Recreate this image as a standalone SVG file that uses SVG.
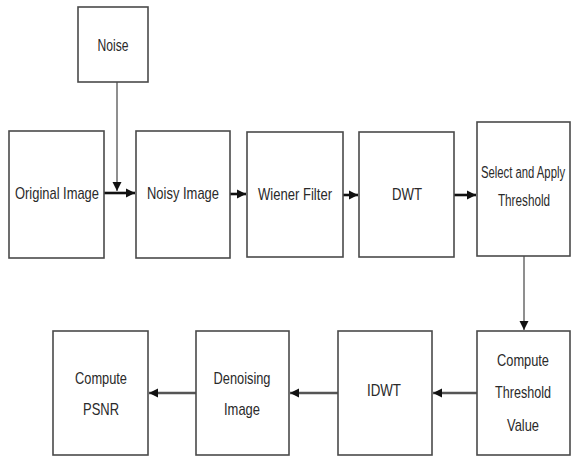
<svg xmlns="http://www.w3.org/2000/svg" width="571" height="459" viewBox="0 0 571 459">
<style>
.box{fill:#fff;stroke:#4a4a4a;stroke-width:1.6}
.t{font-family:"Liberation Sans",Arial,sans-serif;font-size:17px;fill:#2a2a2a;text-anchor:middle}
.c{fill:none;stroke:#111}
.thick{stroke-width:2.6}
.thin{stroke-width:1.1;stroke:#333}
</style>
<defs>
<marker id="ah" markerUnits="userSpaceOnUse" markerWidth="10" markerHeight="10" refX="9" refY="5" orient="auto">
<path d="M0,0.5 L9,5 L0,9.5 Z" fill="#111"/>
</marker>
</defs>
<rect width="571" height="459" fill="#fff"/>
<g id="connectors">
<path class="c thin" d="M117,82 V191" marker-end="url(#ah)"/>
<path class="c thick" d="M104,193 H135" marker-end="url(#ah)"/>
<path class="c thick" d="M230,194 H246" marker-end="url(#ah)"/>
<path class="c thick" d="M343,195 H358" marker-end="url(#ah)"/>
<path class="c thick" d="M454,195 H476" marker-end="url(#ah)"/>
<path class="c thin" d="M524,256 V330" marker-end="url(#ah)"/>
<path class="c thick" d="M477,393 H433" marker-end="url(#ah)" style="stroke:#555"/>
<path class="c thick" d="M338,393 H290" marker-end="url(#ah)" style="stroke:#555"/>
<path class="c thick" d="M196,393 H149" marker-end="url(#ah)" style="stroke:#555"/>
</g>
<g id="noise"><rect class="box" x="78" y="7" width="70" height="75"/><text class="t" x="113" y="51" textLength="31" lengthAdjust="spacingAndGlyphs">Noise</text></g>
<g id="original"><rect class="box" x="9" y="131" width="95" height="127"/><text class="t" x="57" y="199" textLength="84" lengthAdjust="spacingAndGlyphs">Original Image</text></g>
<g id="noisy"><rect class="box" x="136" y="131" width="94" height="127"/><text class="t" x="183" y="199" textLength="72" lengthAdjust="spacingAndGlyphs">Noisy Image</text></g>
<g id="wiener"><rect class="box" x="247" y="132" width="96" height="125"/><text class="t" x="295" y="200" textLength="74" lengthAdjust="spacingAndGlyphs">Wiener Filter</text></g>
<g id="dwt"><rect class="box" x="359" y="132" width="95" height="125"/><text class="t" x="407" y="200" textLength="30" lengthAdjust="spacingAndGlyphs">DWT</text></g>
<g id="select"><rect class="box" x="477" y="122" width="93" height="134"/><text class="t" transform="translate(523,178) scale(0.665,1)">Select and Apply</text><text class="t" transform="translate(524,206) scale(0.69,1)">Threshold</text></g>
<g id="threshold"><rect class="box" x="477" y="331" width="93" height="124"/><text class="t" x="523" y="366" textLength="52" lengthAdjust="spacingAndGlyphs">Compute</text><text class="t" x="523" y="398" textLength="56" lengthAdjust="spacingAndGlyphs">Threshold</text><text class="t" x="523" y="431" textLength="32" lengthAdjust="spacingAndGlyphs">Value</text></g>
<g id="idwt"><rect class="box" x="338" y="331" width="94" height="124"/><text class="t" x="384" y="396" textLength="34" lengthAdjust="spacingAndGlyphs">IDWT</text></g>
<g id="denoising"><rect class="box" x="196" y="331" width="93" height="124"/><text class="t" x="242" y="384" textLength="57" lengthAdjust="spacingAndGlyphs">Denoising</text><text class="t" x="242" y="415" textLength="36" lengthAdjust="spacingAndGlyphs">Image</text></g>
<g id="psnr"><rect class="box" x="53" y="331" width="95" height="124"/><text class="t" x="101" y="384" textLength="52" lengthAdjust="spacingAndGlyphs">Compute</text><text class="t" x="101" y="415" textLength="36" lengthAdjust="spacingAndGlyphs">PSNR</text></g>
</svg>
